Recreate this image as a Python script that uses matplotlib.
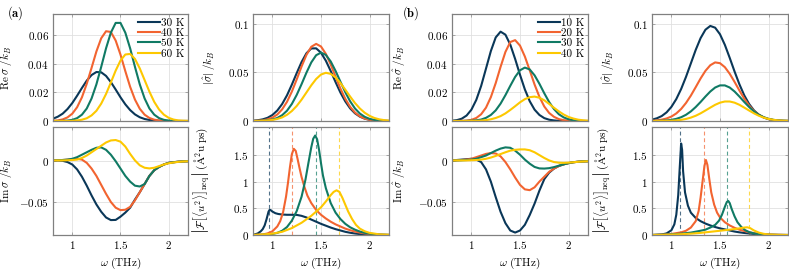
import matplotlib
matplotlib.use('Agg')
import matplotlib.pyplot as plt

plt.rcParams['font.family'] = 'cmr10'
plt.rcParams['mathtext.fontset'] = 'cm'
plt.rcParams['axes.formatter.use_mathtext'] = True
plt.rcParams['font.size'] = 8

# frequency grid (THz) shared by the sigma panels
w = [0.80, 0.85, 0.90, 0.95, 1.00, 1.05, 1.10, 1.15, 1.20, 1.25, 1.30, 1.35, 1.40, 1.45, 1.50,
     1.55, 1.60, 1.65, 1.70, 1.75, 1.80, 1.85, 1.90, 1.95, 2.00, 2.05, 2.10, 2.15, 2.20]

labels_a = ['30 K', '40 K', '50 K', '60 K']
labels_b = ['10 K', '20 K', '30 K', '40 K']
colors = ['#0a3758', '#f26430', '#107a64', '#fdc800']

# ---- (a) ----
re_a_30 = [0.0016, 0.0030, 0.0051, 0.0083, 0.0125, 0.0176, 0.0230, 0.0281, 0.0320, 0.0341, 0.0339, 0.0314, 0.0271, 0.0219, 0.0165,
           0.0116, 0.0076, 0.0046, 0.0026, 0.0014, 0.0007, 0.0003, 0.0001, 0, 0, 0, 0, 0, 0]
re_a_40 = [0.0002, 0.0004, 0.0011, 0.0025, 0.0051, 0.0096, 0.0165, 0.0259, 0.0370, 0.0484, 0.0576, 0.0625, 0.0620, 0.0560, 0.0462,
           0.0347, 0.0238, 0.0149, 0.0085, 0.0044, 0.0021, 0.0009, 0.0004, 0.0001, 0, 0, 0, 0, 0]
re_a_50 = [0, 0, 0.0001, 0.0003, 0.0008, 0.0020, 0.0044, 0.0087, 0.0157, 0.0255, 0.0377, 0.0506, 0.0615, 0.0683, 0.0683,
           0.0615, 0.0506, 0.0377, 0.0255, 0.0157, 0.0087, 0.0044, 0.0020, 0.0008, 0.0003, 0.0001, 0, 0, 0]
re_a_60 = [0, 0, 0, 0, 0.0001, 0.0004, 0.0009, 0.0019, 0.0039, 0.0071, 0.0121, 0.0188, 0.0268, 0.0351, 0.0421,
           0.0463, 0.0467, 0.0432, 0.0366, 0.0285, 0.0204, 0.0133, 0.0080, 0.0044, 0.0022, 0.0010, 0.0004, 0.0002, 0.0001]

abs_a_30 = [0.0003, 0.0008, 0.0017, 0.0033, 0.0062, 0.0108, 0.0175, 0.0265, 0.0375, 0.0494, 0.0608, 0.0698, 0.0748, 0.0749, 0.0704,
            0.0621, 0.0515, 0.0401, 0.0293, 0.0202, 0.0130, 0.0079, 0.0045, 0.0024, 0.0012, 0.0006, 0.0003, 0.0001, 0]
abs_a_40 = [0.0001, 0.0003, 0.0007, 0.0017, 0.0035, 0.0067, 0.0120, 0.0198, 0.0303, 0.0429, 0.0562, 0.0681, 0.0765, 0.0795, 0.0768,
            0.0692, 0.0582, 0.0457, 0.0334, 0.0229, 0.0146, 0.0087, 0.0048, 0.0025, 0.0012, 0.0005, 0.0002, 0.0001, 0]
abs_a_50 = [0, 0.0001, 0.0003, 0.0007, 0.0015, 0.0031, 0.0060, 0.0106, 0.0176, 0.0269, 0.0380, 0.0498, 0.0604, 0.0678, 0.0705,
            0.0681, 0.0614, 0.0516, 0.0405, 0.0297, 0.0203, 0.0129, 0.0077, 0.0043, 0.0022, 0.0011, 0.0005, 0.0002, 0.0001]
abs_a_60 = [0, 0.0001, 0.0002, 0.0005, 0.0011, 0.0021, 0.0037, 0.0064, 0.0103, 0.0155, 0.0220, 0.0294, 0.0368, 0.0433, 0.0479,
            0.0497, 0.0486, 0.0449, 0.0392, 0.0323, 0.0252, 0.0185, 0.0129, 0.0085, 0.0053, 0.0031, 0.0017, 0.0009, 0.0004]

im_a_30 = [0.001, 0.001, 0.0005, -0.001, -0.004, -0.010, -0.019, -0.030, -0.042, -0.053, -0.062, -0.069, -0.0722, -0.0720, -0.068,
           -0.063, -0.057, -0.047, -0.038, -0.028, -0.018, -0.011, -0.007, -0.004, -0.002, -0.0012, -0.0006, -0.0002, 0]
im_a_40 = [0.001, 0.0012, 0.0015, 0.002, 0.0025, 0.003, 0.002, -0.002, -0.009, -0.018, -0.029, -0.040, -0.050, -0.057, -0.060,
           -0.0595, -0.056, -0.048, -0.038, -0.028, -0.018, -0.011, -0.007, -0.004, -0.002, -0.0012, -0.0006, -0.0002, 0]
im_a_50 = [0.001, 0.0012, 0.0015, 0.002, 0.003, 0.005, 0.008, 0.011, 0.014, 0.0165, 0.017, 0.014, 0.008, 0.000, -0.009,
           -0.018, -0.025, -0.030, -0.031, -0.028, -0.018, -0.011, -0.007, -0.004, -0.002, -0.0012, -0.0006, -0.0002, 0]
im_a_60 = [0.001, 0.001, 0.001, 0.0012, 0.0015, 0.002, 0.004, 0.007, 0.011, 0.015, 0.019, 0.023, 0.0255, 0.026, 0.024,
           0.018, 0.009, 0.001, -0.005, -0.008, -0.0088, -0.008, -0.006, -0.004, -0.0025, -0.0015, -0.0008, -0.0003, 0]

fx_a_30 = [0.80, 0.85, 0.88, 0.90, 0.92, 0.94, 0.96, 0.97, 0.98, 1.00, 1.03, 1.06, 1.10, 1.15, 1.20, 1.25, 1.30,
           1.35, 1.40, 1.45, 1.50, 1.55, 1.60, 1.65, 1.70, 1.75, 1.80, 1.85, 1.90, 1.95, 2.00, 2.10, 2.20]
f_a_30 = [0.0, 0.03, 0.07, 0.11, 0.18, 0.30, 0.44, 0.47, 0.47, 0.44, 0.41, 0.395, 0.385, 0.38, 0.38, 0.378, 0.36,
          0.33, 0.29, 0.25, 0.21, 0.175, 0.14, 0.11, 0.085, 0.06, 0.042, 0.028, 0.017, 0.01, 0.005, 0.001, 0.0]
fx_a_40 = [0.80, 0.90, 0.95, 1.00, 1.05, 1.08, 1.11, 1.14, 1.16, 1.18, 1.20, 1.22, 1.24, 1.26, 1.28, 1.30, 1.33,
           1.36, 1.40, 1.45, 1.50, 1.55, 1.60, 1.65, 1.70, 1.75, 1.80, 1.85, 1.90, 1.95, 2.00, 2.10, 2.20]
f_a_40 = [0.0, 0.01, 0.03, 0.07, 0.16, 0.26, 0.43, 0.72, 0.98, 1.27, 1.52, 1.62, 1.58, 1.42, 1.25, 1.09, 0.90,
          0.74, 0.60, 0.47, 0.38, 0.31, 0.25, 0.20, 0.16, 0.12, 0.09, 0.065, 0.045, 0.03, 0.02, 0.007, 0.002]
fx_a_50 = [0.80, 0.90, 1.00, 1.05, 1.10, 1.15, 1.20, 1.25, 1.30, 1.34, 1.37, 1.40, 1.42, 1.44, 1.46, 1.48, 1.50,
           1.52, 1.55, 1.60, 1.65, 1.70, 1.75, 1.80, 1.85, 1.90, 1.95, 2.00, 2.10, 2.20]
f_a_50 = [0.0, 0.005, 0.02, 0.04, 0.08, 0.15, 0.27, 0.45, 0.72, 1.04, 1.35, 1.65, 1.81, 1.87, 1.80, 1.60, 1.35,
          1.12, 0.88, 0.60, 0.42, 0.30, 0.21, 0.145, 0.10, 0.065, 0.04, 0.025, 0.008, 0.002]
fx_a_60 = [0.80, 0.90, 1.00, 1.10, 1.20, 1.30, 1.40, 1.50, 1.55, 1.60, 1.63, 1.66, 1.69, 1.72, 1.75, 1.78, 1.82,
           1.86, 1.90, 1.95, 2.00, 2.10, 2.20]
f_a_60 = [0.0, 0.01, 0.025, 0.06, 0.13, 0.23, 0.36, 0.52, 0.63, 0.75, 0.81, 0.84, 0.81, 0.70, 0.57, 0.44, 0.30,
          0.19, 0.12, 0.07, 0.04, 0.012, 0.004]
vlines_a = [0.96, 1.205, 1.444, 1.683]

# ---- (b) ----
re_b_10 = [0.0002, 0.0006, 0.0016, 0.0038, 0.0079, 0.0147, 0.0244, 0.0365, 0.0487, 0.0582, 0.0622, 0.0601, 0.0532, 0.0432, 0.0322,
           0.0220, 0.0138, 0.0079, 0.0042, 0.0020, 0.0009, 0.0004, 0.0001, 0, 0, 0, 0, 0, 0]
re_b_20 = [0, 0, 0.0001, 0.0003, 0.0008, 0.0021, 0.0047, 0.0093, 0.0166, 0.0264, 0.0377, 0.0481, 0.0550, 0.0563, 0.0525,
           0.0449, 0.0353, 0.0254, 0.0168, 0.0101, 0.0056, 0.0029, 0.0013, 0.0006, 0.0002, 0, 0, 0, 0]
re_b_30 = [0, 0, 0, 0.0001, 0.0002, 0.0005, 0.0010, 0.0022, 0.0042, 0.0074, 0.0121, 0.0180, 0.0245, 0.0307, 0.0353,
           0.0372, 0.0359, 0.0318, 0.0259, 0.0193, 0.0132, 0.0083, 0.0047, 0.0025, 0.0012, 0.0005, 0.0002, 0, 0]
re_b_40 = [0, 0, 0, 0, 0.0001, 0.0001, 0.0003, 0.0006, 0.0012, 0.0021, 0.0034, 0.0053, 0.0077, 0.0103, 0.0130,
           0.0152, 0.0166, 0.0170, 0.0162, 0.0144, 0.0119, 0.0092, 0.0067, 0.0045, 0.0028, 0.0017, 0.0009, 0.0005, 0.0002]

abs_b_10 = [0.0014, 0.0028, 0.0051, 0.0089, 0.0146, 0.0226, 0.0330, 0.0455, 0.0594, 0.0733, 0.0854, 0.0941, 0.0980, 0.0962, 0.0894,
            0.0785, 0.0651, 0.0510, 0.0378, 0.0264, 0.0175, 0.0109, 0.0064, 0.0036, 0.0019, 0.0009, 0.0004, 0.0002, 0.0001]
abs_b_20 = [0.0003, 0.0007, 0.0014, 0.0026, 0.0046, 0.0078, 0.0124, 0.0186, 0.0262, 0.0349, 0.0438, 0.0517, 0.0575, 0.0604, 0.0596,
            0.0555, 0.0487, 0.0403, 0.0314, 0.0230, 0.0159, 0.0104, 0.0064, 0.0037, 0.0020, 0.0010, 0.0005, 0.0002, 0.0001]
abs_b_30 = [0.0001, 0.0001, 0.0003, 0.0006, 0.0012, 0.0022, 0.0039, 0.0064, 0.0099, 0.0144, 0.0196, 0.0252, 0.0304, 0.0345, 0.0367,
            0.0367, 0.0345, 0.0304, 0.0252, 0.0196, 0.0144, 0.0099, 0.0064, 0.0039, 0.0022, 0.0012, 0.0006, 0.0003, 0.0001]
abs_b_40 = [0, 0, 0.0001, 0.0002, 0.0003, 0.0006, 0.0012, 0.0021, 0.0035, 0.0054, 0.0079, 0.0108, 0.0138, 0.0167, 0.0189,
            0.0201, 0.0201, 0.0189, 0.0167, 0.0138, 0.0108, 0.0079, 0.0054, 0.0035, 0.0021, 0.0012, 0.0006, 0.0003, 0.0002]

im_b_10 = [0.001, 0.0015, 0.002, 0.0025, 0.003, 0.002, -0.001, -0.010, -0.025, -0.044, -0.062, -0.076, -0.085, -0.0875, -0.085,
           -0.078, -0.066, -0.052, -0.036, -0.022, -0.014, -0.009, -0.0058, -0.0038, -0.0023, -0.0012, -0.0006, -0.0002, 0]
im_b_20 = [0.001, 0.0012, 0.0015, 0.002, 0.003, 0.005, 0.007, 0.009, 0.010, 0.0095, 0.006, -0.001, -0.010, -0.020, -0.029,
           -0.0345, -0.0355, -0.032, -0.025, -0.019, -0.013, -0.009, -0.0058, -0.0038, -0.0023, -0.0012, -0.0006, -0.0002, 0]
im_b_30 = [0.001, 0.001, 0.0012, 0.0015, 0.002, 0.003, 0.005, 0.007, 0.010, 0.013, 0.0155, 0.017, 0.0165, 0.013, 0.008,
           0.002, -0.003, -0.007, -0.0088, -0.009, -0.0085, -0.0072, -0.0055, -0.0038, -0.0023, -0.0012, -0.0006, -0.0002, 0]
im_b_40 = [0.001, 0.001, 0.001, 0.001, 0.0012, 0.0015, 0.002, 0.003, 0.0045, 0.0065, 0.0088, 0.011, 0.013, 0.014, 0.0145,
           0.0145, 0.0135, 0.011, 0.0075, 0.004, 0.001, -0.001, -0.0018, -0.002, -0.0017, -0.0012, -0.0007, -0.0003, 0]

fx_b_10 = [0.80, 0.90, 0.95, 1.00, 1.03, 1.05, 1.07, 1.085, 1.10, 1.11, 1.12, 1.14, 1.17, 1.20, 1.25, 1.30,
           1.35, 1.40, 1.45, 1.50, 1.55, 1.60, 1.65, 1.70, 1.75, 1.80, 1.85, 1.90, 2.00, 2.10, 2.20]
f_b_10 = [0.0, 0.01, 0.03, 0.09, 0.20, 0.38, 0.75, 1.25, 1.72, 1.60, 1.20, 0.80, 0.55, 0.42, 0.32, 0.26,
          0.215, 0.18, 0.15, 0.125, 0.105, 0.085, 0.065, 0.05, 0.038, 0.028, 0.02, 0.013, 0.005, 0.002, 0.0]
fx_b_20 = [0.80, 0.90, 1.00, 1.10, 1.15, 1.20, 1.25, 1.28, 1.30, 1.32, 1.34, 1.355, 1.37, 1.39, 1.41, 1.44,
           1.47, 1.50, 1.55, 1.60, 1.65, 1.70, 1.75, 1.80, 1.85, 1.90, 2.00, 2.10, 2.20]
f_b_20 = [0.0, 0.005, 0.02, 0.05, 0.08, 0.14, 0.26, 0.45, 0.70, 1.00, 1.30, 1.41, 1.32, 1.05, 0.80, 0.57,
          0.42, 0.33, 0.24, 0.18, 0.135, 0.10, 0.075, 0.05, 0.035, 0.022, 0.008, 0.003, 0.0]
fx_b_30 = [0.80, 0.90, 1.00, 1.10, 1.20, 1.30, 1.35, 1.40, 1.45, 1.49, 1.52, 1.55, 1.57, 1.585, 1.60, 1.62,
           1.65, 1.68, 1.72, 1.76, 1.80, 1.85, 1.90, 2.00, 2.10, 2.20]
f_b_30 = [0.0, 0.005, 0.012, 0.025, 0.045, 0.08, 0.10, 0.14, 0.19, 0.27, 0.38, 0.53, 0.62, 0.64, 0.60, 0.49,
          0.35, 0.24, 0.15, 0.09, 0.055, 0.03, 0.016, 0.005, 0.001, 0.0]
fx_b_40 = [0.80, 0.90, 1.00, 1.10, 1.20, 1.30, 1.40, 1.50, 1.60, 1.70, 1.75, 1.78, 1.81, 1.85, 1.90, 1.95,
           2.00, 2.10, 2.20]
f_b_40 = [0.0, 0.003, 0.008, 0.015, 0.025, 0.04, 0.06, 0.08, 0.10, 0.125, 0.14, 0.145, 0.13, 0.085, 0.045, 0.022,
          0.01, 0.003, 0.0]
vlines_b = [1.085, 1.338, 1.57, 1.802]


def style(ax, ylim, yticks, ylabels, xlabels):
    ax.set_xlim(0.8, 2.2)
    ax.set_ylim(*ylim)
    ax.set_xticks([1, 1.5, 2])
    if xlabels:
        ax.set_xticklabels([r'$1$', r'$1.5$', r'$2$'])
        ax.set_xlabel(r'$\omega$ (THz)', labelpad=3)
    else:
        ax.set_xticklabels([])
    ax.set_yticks(yticks)
    ax.set_yticklabels(ylabels)
    ax.tick_params(direction='in', top=True, right=True, length=2.5, width=0.6,
                   color='0.6', labelsize=8, pad=3)
    ax.grid(True, color='0.88', lw=0.6)
    ax.set_axisbelow(True)
    for s in ax.spines.values():
        s.set_color('0.5')
        s.set_linewidth(0.9)


fig = plt.figure(figsize=(7.89, 2.73), dpi=100)
W, H = 789, 273
lefts = [53, 253, 452, 652]
widths = [135, 136, 136, 136]
top_row = (273 - 121) / H, 107 / H
bot_row = (273 - 235) / H, 108 / H

axs_top = [fig.add_axes([l / W, top_row[0], wd / W, top_row[1]]) for l, wd in zip(lefts, widths)]
axs_bot = [fig.add_axes([l / W, bot_row[0], wd / W, bot_row[1]]) for l, wd in zip(lefts, widths)]

lw = 1.5
re_lbl = r'$\mathrm{Re}\;\hat{\sigma}\;/k_B$'
im_lbl = r'$\mathrm{Im}\;\hat{\sigma}\;/k_B$'
abs_lbl = r'$|\hat{\sigma}|\;/k_B$'
f_lbl = r'$\left|\mathcal{F}\left[\langle u^2\rangle\right]_{\mathrm{neq}}\right|\;(\mathrm{\AA}^2\mathrm{u}\;\mathrm{ps})$'

panels = [
    (axs_top[0], axs_top[1], axs_bot[0], axs_bot[1],
     [re_a_30, re_a_40, re_a_50, re_a_60], [abs_a_30, abs_a_40, abs_a_50, abs_a_60],
     [im_a_30, im_a_40, im_a_50, im_a_60],
     [(fx_a_30, f_a_30), (fx_a_40, f_a_40), (fx_a_50, f_a_50), (fx_a_60, f_a_60)],
     vlines_a, labels_a, -0.28, -0.30),
    (axs_top[2], axs_top[3], axs_bot[2], axs_bot[3],
     [re_b_10, re_b_20, re_b_30, re_b_40], [abs_b_10, abs_b_20, abs_b_30, abs_b_40],
     [im_b_10, im_b_20, im_b_30, im_b_40],
     [(fx_b_10, f_b_10), (fx_b_20, f_b_20), (fx_b_30, f_b_30), (fx_b_40, f_b_40)],
     vlines_b, labels_b, -0.32, -0.29),
]

for ax_re, ax_abs, ax_im, ax_f, re, ab, im, ff, vl, labs, lx, fx in panels:
    for i in range(4):
        ax_re.plot(w, re[i], color=colors[i], lw=lw, label=labs[i])
        ax_abs.plot(w, ab[i], color=colors[i], lw=lw)
        ax_im.plot(w, im[i], color=colors[i], lw=lw)
        ax_f.axvline(vl[i], color=colors[i], lw=0.8, ls=(0, (3.5, 2.5)), alpha=0.7)
    for i in range(4):
        ax_f.plot(ff[i][0], ff[i][1], color=colors[i], lw=lw)

    style(ax_re, (0, 0.0745), [0, 0.02, 0.04, 0.06], [r'$0$', r'$0.02$', r'$0.04$', r'$0.06$'], False)
    style(ax_abs, (0, 0.1103), [0, 0.05, 0.1], [r'$0$', r'$0.05$', r'$0.1$'], False)
    style(ax_im, (-0.0905, 0.042), [-0.05, 0], [r'$-0.05$', r'$0$'], True)
    style(ax_f, (0, 2.03), [0, 0.5, 1, 1.5], [r'$0$', r'$0.5$', r'$1$', r'$1.5$'], True)

    ax_re.set_ylabel(re_lbl)
    ax_im.set_ylabel(im_lbl)
    ax_abs.set_ylabel(abs_lbl)
    ax_f.set_ylabel(f_lbl)
    ax_re.yaxis.set_label_coords(lx, 0.5)
    ax_im.yaxis.set_label_coords(lx, 0.5)
    ax_abs.yaxis.set_label_coords(-0.26, 0.5)
    ax_f.yaxis.set_label_coords(fx, 0.5)

    ax_re.legend(loc='upper right', frameon=False, fontsize=8, handlelength=1.9,
                 handletextpad=0.1, labelspacing=0.05, borderaxespad=0.15, borderpad=0.2)

fig.text(7 / W, 1 - 13 / H, r'$\mathbf{(a)}$', fontsize=9, va='center', ha='left')
fig.text(402 / W, 1 - 13 / H, r'$\mathbf{(b)}$', fontsize=9, va='center', ha='left')

fig.savefig('out.png', dpi=100)
